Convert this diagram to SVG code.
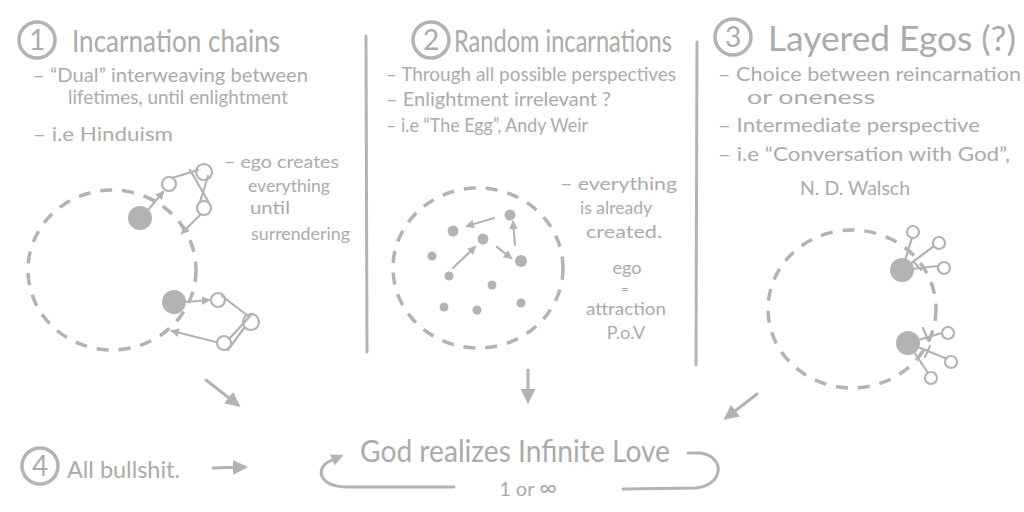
<svg xmlns="http://www.w3.org/2000/svg" width="1024" height="512" viewBox="0 0 1024 512">
<style>
text{font-family:Lato,"Open Sans","Liberation Sans",sans-serif;font-weight:400;fill:#ababab}
.t{font-size:30px}
.b{font-size:20px}
.s{font-size:18px}
.n{font-size:28px;text-anchor:middle}
.ln{fill:none;stroke:#b3b3b3;stroke-width:3;stroke-linecap:round;stroke-linejoin:round}
.thin{fill:none;stroke:#b3b3b3;stroke-width:2.2;stroke-linecap:round}
.dash{fill:none;stroke:#b3b3b3;stroke-width:3.5;stroke-dasharray:12 10}
.dot{fill:#b3b3b3}
.oc{fill:#fff;stroke:#b3b3b3;stroke-width:2.2}
.num{fill:none;stroke:#b3b3b3;stroke-width:3.5}
</style>
<defs>
<marker id="ah" viewBox="0 0 10 10" refX="8" refY="5" markerWidth="5" markerHeight="5" orient="auto"><path d="M0,0 L10,5 L0,10 z" fill="#b3b3b3"/></marker>
<marker id="ahs" viewBox="0 0 10 10" refX="8" refY="5" markerWidth="4" markerHeight="4" orient="auto"><path d="M0,0 L10,5 L0,10 z" fill="#b3b3b3"/></marker>
</defs>
<rect width="1024" height="512" fill="#fff"/>

<g id="dividers">
<path class="ln" d="M366,36 L367,352"/>
<path class="ln" d="M697,42 L696,365"/>
</g>

<g id="section1">
<circle class="num" cx="37" cy="40" r="18"/>
<text class="n" x="37" y="50">1</text>
<text class="t" x="72" y="52" textLength="208" lengthAdjust="spacingAndGlyphs">Incarnation chains</text>
<text class="b" x="33" y="82" textLength="275" lengthAdjust="spacingAndGlyphs">– “Dual” interweaving between</text>
<text class="b" x="68" y="104" textLength="220" lengthAdjust="spacingAndGlyphs">lifetimes, until enlightment</text>
<text class="b" x="33" y="141" textLength="140" lengthAdjust="spacingAndGlyphs">– i.e Hinduism</text>
</g>

<g id="diagram1">
<ellipse class="dash" cx="112" cy="270" rx="84" ry="80"/>
<circle class="dot" cx="140" cy="218" r="12"/>
<circle class="dot" cx="174" cy="302" r="12"/>
<circle class="oc" cx="169" cy="184" r="7"/>
<circle class="oc" cx="204" cy="172" r="8"/>
<circle class="oc" cx="204" cy="208" r="7"/>
<circle class="oc" cx="218" cy="300" r="7"/>
<circle class="oc" cx="251" cy="322" r="8"/>
<circle class="oc" cx="224" cy="343" r="7"/>
<path class="thin" d="M172,178 L198,170 M190,170 L208,201 M208,176 L200,202 M222,296 L248,316 M252,314 L229,339 M244,328 L228,350"/>
</g>
<g id="text1">
<text class="s" x="224" y="168" textLength="115" lengthAdjust="spacingAndGlyphs">– ego creates</text>
<text class="s" x="248" y="192" textLength="82" lengthAdjust="spacingAndGlyphs">everything</text>
<text class="s" x="250" y="214" textLength="40" lengthAdjust="spacingAndGlyphs">until</text>
<text class="s" x="251" y="240" textLength="99" lengthAdjust="spacingAndGlyphs">surrendering</text>
</g>

<g id="section2">
<circle class="num" cx="431" cy="40" r="18"/>
<text class="n" x="431" y="50">2</text>
<text class="t" x="454" y="52" textLength="218" lengthAdjust="spacingAndGlyphs">Random incarnations</text>
<text class="b" x="386" y="81" textLength="290" lengthAdjust="spacingAndGlyphs">– Through all possible perspectives</text>
<text class="b" x="386" y="106" textLength="225" lengthAdjust="spacingAndGlyphs">– Enlightment irrelevant ?</text>
<text class="b" x="386" y="132" textLength="202" lengthAdjust="spacingAndGlyphs">– i.e “The Egg”, Andy Weir</text>
</g>

<g id="diagram2">
<ellipse class="dash" cx="478" cy="268" rx="85" ry="80"/>
<circle class="dot" cx="510" cy="215" r="5.5"/>
<circle class="dot" cx="453" cy="231" r="5.5"/>
<circle class="dot" cx="483" cy="239" r="5.5"/>
<circle class="dot" cx="432" cy="256" r="4.5"/>
<circle class="dot" cx="521" cy="261" r="6"/>
<circle class="dot" cx="449" cy="276" r="4.5"/>
<circle class="dot" cx="492" cy="285" r="4.5"/>
<circle class="dot" cx="444" cy="307" r="4.5"/>
<circle class="dot" cx="477" cy="310" r="4.5"/>
<circle class="dot" cx="521" cy="303" r="4.5"/>
</g>
<g id="text2">
<text class="s" x="560" y="190" textLength="117" lengthAdjust="spacingAndGlyphs">– everything</text>
<text class="s" x="580" y="214" textLength="72" lengthAdjust="spacingAndGlyphs">is already</text>
<text class="s" x="586" y="238" textLength="76" lengthAdjust="spacingAndGlyphs">created.</text>
<text class="s" x="627" y="274" text-anchor="middle">ego</text>
<text x="625" y="294" text-anchor="middle" style="font-size:14px">=</text>
<text class="s" x="626" y="315" text-anchor="middle" textLength="80" lengthAdjust="spacingAndGlyphs">attraction</text>
<text class="s" x="626" y="339" text-anchor="middle">P.o.V</text>
</g>

<g id="section3">
<circle class="num" cx="733" cy="37" r="18"/>
<text class="n" x="733" y="47">3</text>
<text x="768" y="51" style="font-size:34px" textLength="248" lengthAdjust="spacingAndGlyphs">Layered Egos (?)</text>
<text class="b" x="718" y="81" textLength="303" lengthAdjust="spacingAndGlyphs">– Choice between reincarnation</text>
<text class="b" x="747" y="104" textLength="128" lengthAdjust="spacingAndGlyphs">or oneness</text>
<text class="b" x="718" y="132" textLength="262" lengthAdjust="spacingAndGlyphs">– Intermediate perspective</text>
<text class="b" x="718" y="161" textLength="292" lengthAdjust="spacingAndGlyphs">– i.e “Conversation with God”,</text>
<text class="b" x="800" y="195" textLength="110" lengthAdjust="spacingAndGlyphs">N. D. Walsch</text>
</g>

<g id="diagram3">
<ellipse class="dash" cx="852" cy="309" rx="84" ry="79"/>
<path class="thin" d="M902,270 L912,238 M902,270 L934,246 M902,270 L938,266 M908,343 L942,333 M908,343 L945,358 M908,343 L928,373 M914,262 L921,270 M923,328 L928,340 M925,357 L930,346"/>
<circle class="dot" cx="902" cy="270" r="12"/>
<circle class="dot" cx="908" cy="343" r="12"/>
<circle class="oc" cx="913" cy="232" r="6"/>
<circle class="oc" cx="939" cy="243" r="6"/>
<circle class="oc" cx="944" cy="268" r="6"/>
<circle class="oc" cx="948" cy="333" r="6"/>
<circle class="oc" cx="951" cy="362" r="6"/>
<circle class="oc" cx="931" cy="378" r="6"/>
</g>

<g id="section4">
<circle class="num" cx="40" cy="466" r="18"/>
<text class="n" x="40" y="476">4</text>
<text x="67" y="478" style="font-size:24px;font-weight:400" textLength="113" lengthAdjust="spacingAndGlyphs">All bullshit.</text>
</g>

<g id="god">
<text x="360" y="462" style="font-size:30px" textLength="310" lengthAdjust="spacingAndGlyphs">God realizes Infinite Love</text>
<text x="528" y="496" text-anchor="middle" style="font-size:20px">1 or <tspan style="font-size:24px">∞</tspan></text>
</g>

<g id="connectors">
<path class="thin" d="M148,210 L163,192" marker-end="url(#ahs)"/>
<path class="thin" d="M200,215 L182,233" marker-end="url(#ahs)"/>
<path class="thin" d="M186,302 L209,300" marker-end="url(#ahs)"/>
<path class="thin" d="M216,342 L172,331" marker-end="url(#ahs)"/>
<path class="thin" d="M494,218 L467,226" marker-end="url(#ahs)"/>
<path class="thin" d="M453,268 L475,247" marker-end="url(#ahs)"/>
<path class="thin" d="M497,247 L511,258" marker-end="url(#ahs)"/>
<path class="thin" d="M515,245 L513,222" marker-end="url(#ahs)"/>
<path class="ln" d="M206,380 L238,405" marker-end="url(#ah)"/>
<path class="ln" d="M528,370 L528,401" marker-end="url(#ah)"/>
<path class="ln" d="M757,394 L726,418" marker-end="url(#ah)"/>
<path class="ln" d="M213,468 L245,467" marker-end="url(#ah)"/>
<path class="ln" d="M454,487 L348,487 C320,487 315,470 328,462 L341,456" marker-end="url(#ahs)"/>
<path class="ln" d="M623,489 L695,488 C724,486 726,456 700,453 L688,453"/>
</g>
</svg>
